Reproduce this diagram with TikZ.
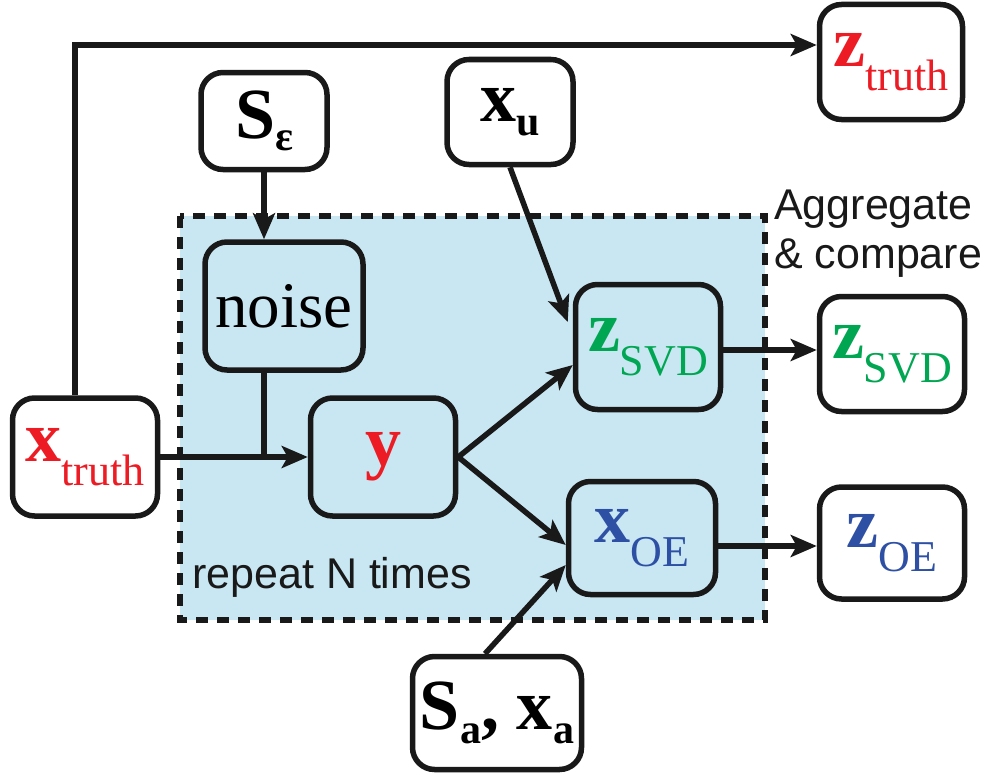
\documentclass[tikz,border=0pt]{standalone}
\usepackage{fontspec}
\setmainfont{Liberation Serif}
\setsansfont{Liberation Sans}
\usetikzlibrary{arrows.meta}
\definecolor{myred}{RGB}{237,28,36}
\definecolor{mygreen}{RGB}{0,166,81}
\definecolor{myblue}{RGB}{46,80,164}
\definecolor{myfill}{RGB}{200,231,242}
\newcommand\mainsym[1]{{\fontsize{72}{72}\selectfont\bfseries #1}}
\newcommand\subsym[2][-24pt]{\raisebox{#1}{\fontsize{44}{44}\selectfont #2}}
\newcommand\bsubsym[2][-14pt]{\raisebox{#1}{\fontsize{42}{42}\selectfont\bfseries #2}}
\begin{document}
\begin{tikzpicture}[x=1pt,y=-1pt,
  box/.style={draw=black!90, line width=5.5pt, rounded corners=22pt, inner sep=0pt, fill=white},
  conn/.style={draw=black!90, line width=5.5pt, -{Stealth[length=26pt,width=22pt,inset=6pt]}},
  plain/.style={draw=black!90, line width=5.5pt},
  sanslabel/.style={font=\sffamily\fontsize{43}{49}\selectfont, text=black!90, inner sep=0pt, align=left}]
\useasboundingbox (0,0) rectangle (984,776);
\draw[fill=myfill, draw=black!90, line width=6pt, dash pattern=on 12pt off 9pt] (180,216) rectangle (765,620);

\node[box, minimum width=126pt, minimum height=97pt] (se) at (264,121) {\mainsym{S}\bsubsym[-12pt]{ε}};
\node[box, minimum width=126pt, minimum height=105pt] (xu) at (510,112) {\mainsym{x}\bsubsym{u}};
\node[box, minimum width=143pt, minimum height=115pt, text=myred] (zt) at (891,62) {\mainsym{z}\subsym{truth}};
\node[box, fill=myfill, minimum width=158pt, minimum height=128pt, font=\fontsize{65}{65}\selectfont] (noise) at (284,306) {noise};
\node[box, minimum width=145pt, minimum height=118pt, text=myred] (xt) at (85,457) {\mainsym{x}\subsym{truth}};
\node[box, fill=myfill, minimum width=145pt, minimum height=118pt, text=myred] (y) at (383,457) {\mainsym{y}};
\node[box, fill=myfill, minimum width=145pt, minimum height=125pt, text=mygreen] (zsvd) at (648,347) {\mainsym{z}\subsym{SVD}};
\node[box, minimum width=145pt, minimum height=115pt, text=mygreen] (zsvdo) at (892,354) {\mainsym{z}\subsym{SVD}};
\node[box, fill=myfill, minimum width=147pt, minimum height=113pt, text=myblue] (xoe) at (642,538) {\mainsym{x}\subsym{OE}};
\node[box, minimum width=145pt, minimum height=112pt, text=myblue] (zoe) at (892,543) {\mainsym{z}\subsym{OE}};
\node[box, minimum width=169pt, minimum height=113pt] (sa) at (497,713) {\mainsym{S}\bsubsym{a}\mainsym{, x}\bsubsym{a}};

\node[sanslabel, anchor=north west] (agg) at (774,190) {Aggregate\\\& compare};
\node[sanslabel, anchor=base west] (rep) at (192,588) {repeat N times};

\draw[conn] ([xshift=-10pt]xt.north) |- ([yshift=17pt]zt.west);
\draw[conn] (se.south) -- (se.south |- noise.north);
\coordinate (j) at (se.south |- xt.east);
\draw[plain] (noise.south -| se.south) -- (j);
\draw[conn] (xt.east) -- (y.west);
\draw[conn] (y.east) -- ([yshift=-18pt]zsvd.west);
\draw[conn] (y.east) -- ([yshift=-7pt]xoe.west);
\draw[conn] (xu.south) -- ([xshift=-5pt,yshift=25pt]zsvd.west);
\draw[conn] ([xshift=-12pt]sa.north) -- ([yshift=-27pt]xoe.west);
\draw[conn] ([yshift=-3pt]zsvd.east) -- ([yshift=-3pt]zsvd.east -| zsvdo.west);
\draw[conn] ([yshift=-8pt]xoe.east) -- ([yshift=-8pt]xoe.east -| zoe.west);
\end{tikzpicture}
\end{document}
